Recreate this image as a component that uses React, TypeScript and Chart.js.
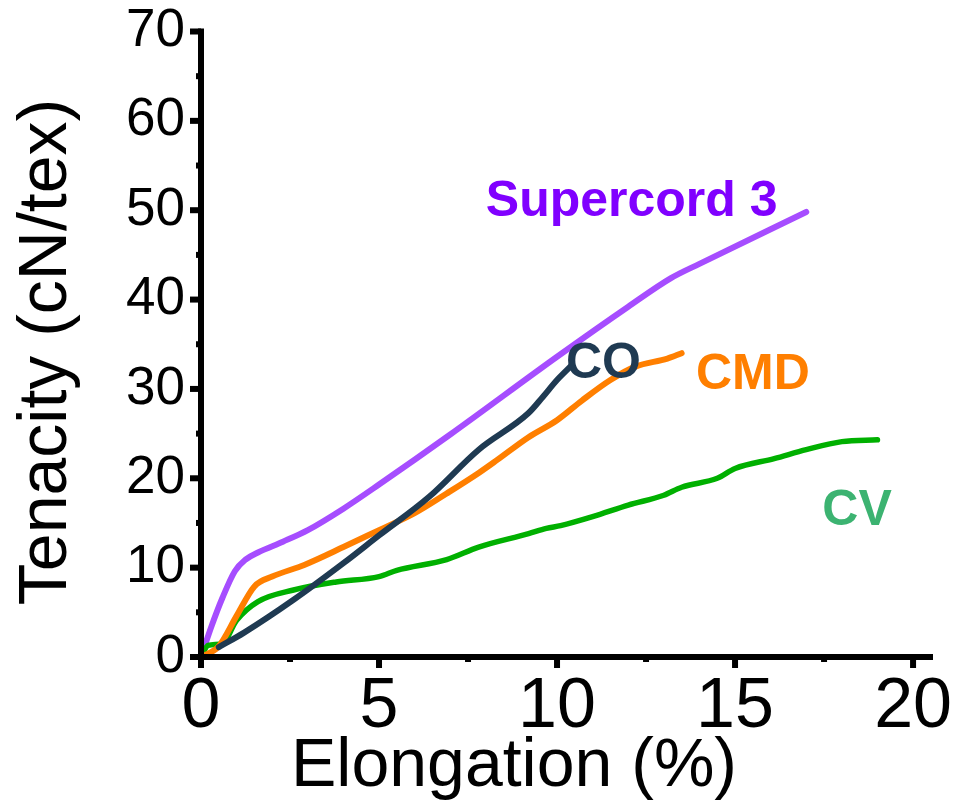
import React, { useEffect, useRef } from "react";
import { Chart, registerables } from "chart.js";

Chart.register(...registerables);

// ---- data ----
const coX = [0.5, 1.2, 2.6, 4.0, 5.0, 6.4, 7.8, 9.2, 9.6, 10.0, 10.4];
const coY = [1.1, 2.7, 6.4, 10.5, 13.6, 17.9, 23.2, 27.3, 29.1, 31.0, 32.6];

const cmdX = [0, 0.5, 1.0, 1.5, 2.0, 2.9, 4.0, 5.0, 6.0, 6.9, 7.8, 8.3, 9.2, 10.0, 10.7, 11.5, 12.2, 13.1, 13.5];
const cmdY = [0, 1.2, 4.6, 7.9, 9.0, 10.3, 12.3, 14.2, 16.1, 18.3, 20.6, 22.0, 24.6, 26.5, 28.7, 31.0, 32.5, 33.4, 34.0];

const cvX = [0, 0.2, 0.6, 1.0, 1.6, 2.6, 3.8, 5.0, 5.5, 6.9, 7.8, 9.2, 9.7, 10.1, 11.0, 12.0, 13.0, 13.5, 14.5, 15.0, 16.1, 17.0, 18.0, 19.0];
const cvY = [0, 1.3, 1.5, 4.1, 6.2, 7.5, 8.4, 9.0, 9.7, 10.9, 12.3, 13.8, 14.4, 14.7, 15.7, 17.0, 18.1, 19.0, 20.0, 21.1, 22.2, 23.2, 24.1, 24.3];

const supercordX = [0, 0.3, 0.6, 0.95, 1.25, 1.6, 2.3, 3.0, 4.0, 5.0, 7.0, 10.0, 12.0, 13.2, 14.0, 17.0];
const supercordY = [0, 3.5, 6.6, 9.6, 10.9, 11.7, 12.9, 14.2, 16.6, 19.3, 24.9, 33.6, 39.2, 42.4, 44.0, 49.8];

const seriesNames = ["CO", "CMD", "CV", "Supercord 3"];
const xTickValues = [0, 5, 10, 15, 20];
const yTickValues = [0, 10, 20, 30, 40, 50, 60, 70];
const xMinorTicks = [2.5, 7.5, 12.5, 17.5];
const yMinorTicks = [5, 15, 25, 35, 45, 55, 65];
const xTitle = "Elongation (%)";
const yTitle = "Tenacity (cN/tex)";

const FONT = "'Liberation Sans', Arial, Helvetica, sans-serif";

const toPoints = (xs: number[], ys: number[]) => xs.map((x, i) => ({ x, y: ys[i] }));

// annotation placement (data coordinates of text start / baseline) and colours
const labelStyle = [
  { color: "#1f3a52", x: 10.25, y: 31.2 },
  { color: "#ff7f00", x: 13.9, y: 30.0 },
  { color: "#3cb371", x: 17.45, y: 14.8 },
  { color: "#8000ff", x: 8.0, y: 49.4 },
];

const decorPlugin = {
  id: "decor",
  afterDatasetsDraw(chart: any) {
    const { ctx, chartArea } = chart;
    const xs = chart.scales.x;
    const ys = chart.scales.y;
    const x0 = xs.getPixelForValue(0);
    const y0 = ys.getPixelForValue(0);
    const yTop = ys.getPixelForValue(yTickValues[yTickValues.length - 1]);
    const lw = 6;
    ctx.save();
    ctx.fillStyle = "#000";
    // axis lines
    ctx.fillRect(x0 - lw / 2, yTop - lw / 2, lw, y0 - yTop + lw);
    ctx.fillRect(x0 - lw / 2, y0 - lw / 2, chartArea.right - x0 + lw / 2, lw);
    // y ticks
    yTickValues.forEach((v) => {
      const p = ys.getPixelForValue(v);
      ctx.fillRect(x0 - 11, p - lw / 2, 11, lw);
    });
    yMinorTicks.forEach((v) => {
      const p = ys.getPixelForValue(v);
      ctx.fillRect(x0 - 5, p - lw / 2, 5, lw);
    });
    // x ticks
    xTickValues.forEach((v) => {
      const p = xs.getPixelForValue(v);
      ctx.fillRect(p - lw / 2, y0, lw, 11);
    });
    xMinorTicks.forEach((v) => {
      const p = xs.getPixelForValue(v);
      ctx.fillRect(p - lw / 2, y0, lw, 5);
    });

    // series labels
    ctx.font = `bold 50px ${FONT}`;
    ctx.textAlign = "left";
    ctx.textBaseline = "alphabetic";
    seriesNames.forEach((name, i) => {
      const s = labelStyle[i];
      ctx.fillStyle = s.color;
      ctx.fillText(name, xs.getPixelForValue(s.x), ys.getPixelForValue(s.y));
    });

    // axis titles
    ctx.fillStyle = "#000";
    ctx.font = `68px ${FONT}`;
    ctx.textAlign = "center";
    ctx.fillText(xTitle, 514, 786);
    ctx.translate(66, 352);
    ctx.rotate(-Math.PI / 2);
    ctx.fillText(yTitle, 0, 0);
    ctx.restore();
  },
};

export default function App() {
  const canvasRef = useRef<HTMLCanvasElement | null>(null);

  useEffect(() => {
    if (!canvasRef.current) return;
    const common = {
      pointRadius: 0,
      fill: false,
      borderCapStyle: "round",
      borderJoinStyle: "round",
      cubicInterpolationMode: "monotone",
    };
    const chart = new Chart(canvasRef.current, {
      type: "line",
      data: {
        datasets: [
          { ...common, label: seriesNames[0], data: toPoints(coX, coY), borderColor: "#1f3a52", borderWidth: 6 },
          { ...common, label: seriesNames[1], data: toPoints(cmdX, cmdY), borderColor: "#ff7f00", borderWidth: 6 },
          { ...common, label: seriesNames[2], data: toPoints(cvX, cvY), borderColor: "#00b000", borderWidth: 5.5 },
          { ...common, label: seriesNames[3], data: toPoints(supercordX, supercordY), borderColor: "#a64dff", borderWidth: 6 },
        ] as any,
      },
      options: {
        animation: false,
        responsive: false,
        layout: { padding: { top: 31.5, right: 22, left: 0, bottom: 0 } },
        plugins: { legend: { display: false }, tooltip: { enabled: false } },
        scales: {
          x: {
            type: "linear",
            min: 0,
            max: 20.56,
            afterFit: (s: any) => {
              s.height = 154;
              s.paddingLeft = 0;
              s.paddingRight = 0;
              s.paddingTop = 0;
              s.paddingBottom = 0;
            },
            afterBuildTicks: (s: any) => {
              s.ticks = xTickValues.map((v) => ({ value: v }));
            },
            ticks: {
              font: { family: FONT, size: 70 },
              color: "#000",
              padding: 9,
              maxRotation: 0,
              autoSkip: false,
            },
            grid: { display: false, drawTicks: false },
            border: { display: false },
          },
          y: {
            type: "linear",
            min: 0,
            max: 70,
            afterFit: (s: any) => {
              s.width = 201;
              s.paddingLeft = 0;
              s.paddingRight = 0;
              s.paddingTop = 0;
              s.paddingBottom = 0;
            },
            afterBuildTicks: (s: any) => {
              s.ticks = yTickValues.map((v) => ({ value: v }));
            },
            ticks: {
              font: { family: FONT, size: 53 },
              color: "#000",
              padding: 16,
              autoSkip: false,
            },
            grid: { display: false, drawTicks: false },
            border: { display: false },
          },
        },
      } as any,
      plugins: [decorPlugin],
    });
    return () => chart.destroy();
  }, []);

  return (
    <div style={{ position: "absolute", left: 0, top: 0, width: 955, height: 811, background: "#fff" }}>
      <canvas ref={canvasRef} width={955} height={811} style={{ display: "block" }} />
    </div>
  );
}
